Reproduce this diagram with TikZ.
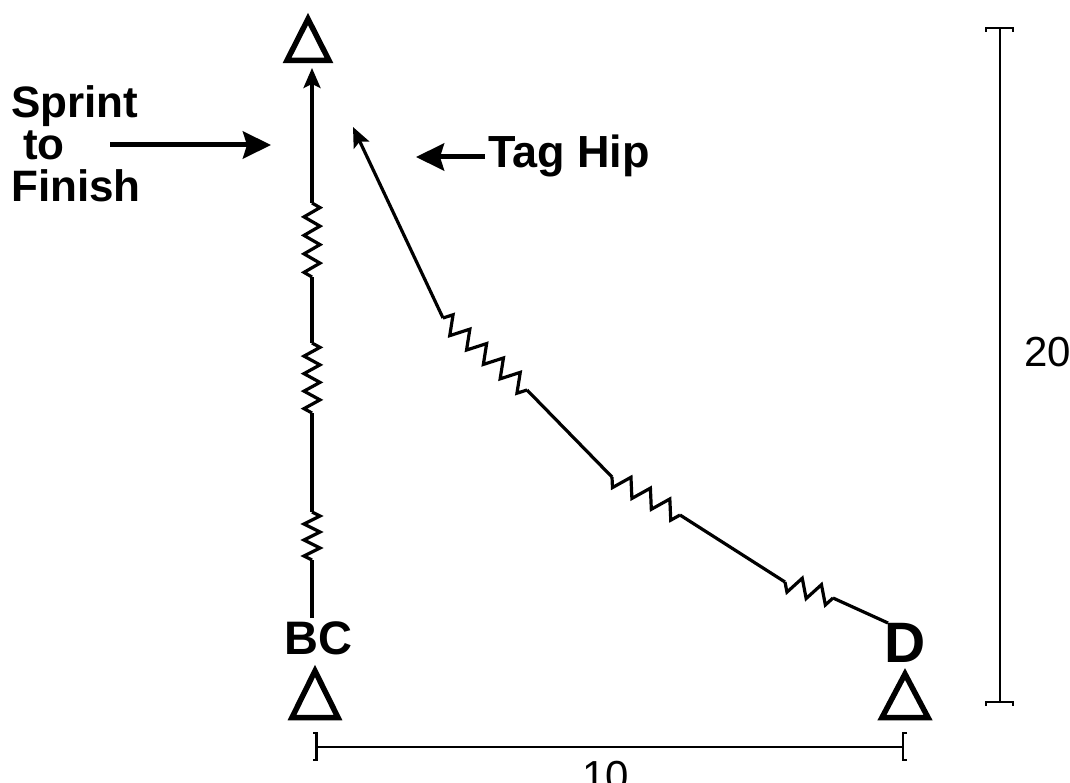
\documentclass[tikz,border=0pt]{standalone}
\usepackage{fontspec}
\setmainfont{Liberation Sans}
\usetikzlibrary{arrows.meta,calc}
\newcommand\zigz[4]{%
  \draw[wire] (#1) \foreach \k [evaluate=\k as \f using {(\k-0.5)/#3},
      evaluate=\k as \s using {(2*mod(\k,2)-1)*#4}] in {1,...,#3}
      { -- ($(#1)!\f!(#2)!\s pt!90:(#2)$) } -- (#2);}
\tikzset{
  wire/.style={line width=3.2pt, line join=miter},
  bigarrow/.style={line width=5pt, -{Stealth[length=28pt,width=27pt,inset=4pt]}},
  smallarrow/.style={wire, -{Stealth[length=20pt,width=17pt,inset=4pt]}},
  cone/.style={line width=5.5pt, line join=miter},
  dim/.style={line width=2.6pt},
  lbl/.style={inner sep=0pt, anchor=base west, font=\bfseries\fontsize{44}{46}\selectfont},
}
\begin{document}
\begin{tikzpicture}[x=1pt,y=-1pt]
\useasboundingbox (0,0) rectangle (1070,783);
% cones
\draw[cone] (308,19) -- (329,60.5) -- (287,60.5) -- cycle;
\draw[cone] (315,671) -- (338,717.5) -- (292,717.5) -- cycle;
\draw[cone] (905,674) -- (928,717.5) -- (882,717.5) -- cycle;
% labels
\node[lbl] (sprint) at (11,118) {Sprint};
\node[lbl] (to) at (23,160) {to};
\node[lbl] (finish) at (11,202) {Finish};
\node[lbl, font=\bfseries\fontsize{45}{48}\selectfont] (tag) at (488,168) {Tag Hip};
\node[lbl, font=\bfseries\fontsize{47}{50}\selectfont] (bc) at (284,654) {BC};
\node[lbl, font=\bfseries\fontsize{57}{60}\selectfont] (d) at (884,662) {D};
\node[inner sep=0pt, anchor=base west, font=\fontsize{42}{44}\selectfont] (twenty) at (1024,366) {20};
\node[inner sep=0pt, anchor=base west, font=\fontsize{42}{44}\selectfont] (ten) at (582,790) {10};
% vertical run (BC)
\coordinate (v0) at (312,618);
\coordinate (v1) at (312,560);
\coordinate (v2) at (312,512);
\coordinate (v3) at (312,413);
\coordinate (v4) at (312,343);
\coordinate (v5) at (312,277);
\coordinate (v6) at (312,203);
\coordinate (vtop) at (312,68);
\draw[wire] (v0) -- (v1);
\zigz{v1}{v2}{6}{8}
\draw[wire] (v2) -- (v3);
\zigz{v3}{v4}{8}{8}
\draw[wire] (v4) -- (v5);
\zigz{v5}{v6}{8}{8}
\draw[smallarrow] (v6) -- (vtop);
% diagonal run (D)
\coordinate (d0) at (888,623);
\coordinate (d1) at (833,598);
\coordinate (d2) at (785,582);
\coordinate (d3) at (680,515);
\coordinate (d4) at (612,477);
\coordinate (d5) at (527,390);
\coordinate (d6) at (443,318);
\coordinate (dtop) at (353,127);
\draw[wire] (d0) -- (d1);
\zigz{d1}{d2}{5}{9}
\draw[wire] (d2) -- (d3);
\zigz{d3}{d4}{7}{9}
\draw[wire] (d4) -- (d5);
\zigz{d5}{d6}{10}{9}
\draw[smallarrow] (d6) -- (dtop);
% pointer arrows
\coordinate (sa) at (110,145);
\coordinate (sb) at (271,145);
\draw[bigarrow] (sa) -- (sb);
\coordinate (ta) at (485,157);
\coordinate (tb) at (416,157);
\draw[bigarrow] (ta) -- (tb);
% dimension 20
\coordinate (dt) at (1000,28);
\coordinate (db) at (1000,702);
\draw[dim] (986,32) -- (986,28) -- (1013,28) -- (1013,32);
\draw[dim] (986,706) -- (986,702) -- (1013,702) -- (1013,706);
\draw[dim] (dt) -- (db);
% dimension 10
\coordinate (hl) at (316.5,747);
\coordinate (hr) at (903,747);
\draw[dim] (313,733) -- (316.5,733) -- (316.5,760) -- (313,760);
\draw[dim] (907,733) -- (903,733) -- (903,760) -- (907,760);
\draw[dim] (hl) -- (hr);
\end{tikzpicture}
\end{document}
